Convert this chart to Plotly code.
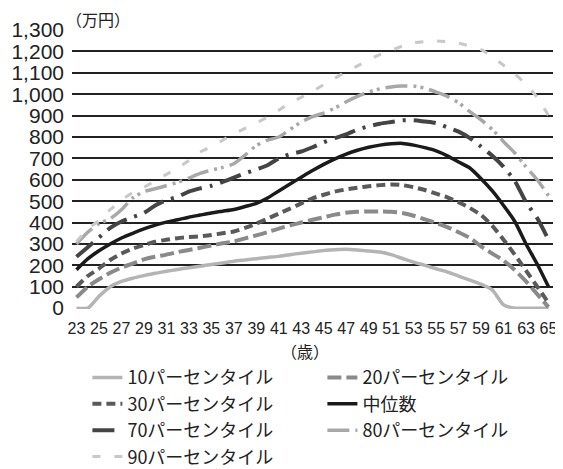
import plotly.graph_objects as go

ages = list(range(23, 66))
tick_vals = list(range(23, 66, 2))
tick_text = [str(v) for v in tick_vals]
y_ticks = list(range(0, 1301, 100))
y_tick_text = [f"{v:,}" for v in y_ticks]

p10 = [0, 0, 55, 100, 125, 140, 152, 163, 172, 181, 189, 196, 204, 211, 219, 225, 231, 237, 242, 250,
       257, 263, 269, 273, 275, 272, 267, 262, 250, 232, 215, 200, 184, 169, 150, 131, 112, 85, 15, 0, 0, 0, 0]
p20 = [50, 100, 135, 165, 190, 208, 228, 240, 250, 262, 272, 282, 293, 303, 312, 326, 340, 355, 372, 387,
       400, 413, 425, 437, 446, 450, 452, 452, 450, 445, 432, 415, 398, 379, 355, 328, 289, 255, 222, 178, 125, 65, 5]
p30 = [100, 150, 185, 225, 255, 278, 295, 310, 320, 327, 332, 336, 342, 350, 358, 375, 395, 418, 442, 465,
       490, 513, 530, 545, 555, 563, 570, 575, 578, 575, 565, 552, 535, 518, 495, 468, 435, 385, 320, 250, 175, 100, 25]
p50 = [180, 230, 268, 300, 328, 350, 370, 388, 402, 413, 425, 435, 445, 453, 461, 475, 490, 515, 548, 580,
       612, 643, 672, 698, 720, 738, 752, 762, 768, 770, 762, 750, 735, 712, 683, 655, 605, 548, 480, 405, 300, 205, 100]
p70 = [240, 285, 330, 375, 405, 425, 445, 480, 505, 520, 545, 560, 572, 590, 610, 630, 648, 668, 700, 720,
       732, 752, 775, 795, 812, 835, 850, 862, 870, 878, 878, 872, 865, 845, 825, 795, 755, 712, 660, 595, 495, 420, 320]
p80 = [300, 355, 395, 418, 460, 515, 545, 558, 572, 588, 608, 630, 645, 658, 675, 715, 760, 785, 800, 835,
       870, 895, 912, 935, 965, 990, 1010, 1025, 1034, 1038, 1038, 1028, 1010, 990, 960, 918, 880, 835, 778, 725, 660, 600, 525]
p90 = [310, 370, 410, 460, 505, 540, 565, 595, 625, 655, 690, 730, 755, 785, 815, 840, 865, 893, 925, 960,
       985, 1013, 1045, 1075, 1105, 1132, 1160, 1185, 1205, 1225, 1240, 1246, 1249, 1245, 1238, 1225, 1208, 1175, 1135, 1095, 1045, 985, 900]

series = [
    ("10パーセンタイル", p10, "#b4b4b4", "solid", 3.5),
    ("20パーセンタイル", p20, "#8a8a8a", "14px,5px", 4),
    ("30パーセンタイル", p30, "#5a5a5a", "9px,5px", 4),
    ("中位数", p50, "#1a1a1a", "solid", 3.5),
    ("70パーセンタイル", p70, "#444444", "22px,8px,3px,8px", 4),
    ("80パーセンタイル", p80, "#a8a8a8", "22px,6px,3px,4px,3px,6px", 3.5),
    ("90パーセンタイル", p90, "#c8c8c8", "8px,14px", 3),
]

fig = go.Figure()
for name, vals, color, dash, w in series:
    fig.add_trace(go.Scatter(x=ages, y=vals, mode="lines", name=name,
                             line=dict(color=color, dash=dash, width=w, shape="spline", smoothing=0.6)))

font_main = "Liberation Sans, DejaVu Sans, Noto Sans CJK JP"
# page body has an 8px margin, so the figure is 8px smaller and offset accordingly
fig.update_layout(
    width=555, height=461,
    margin=dict(l=64, r=10, t=22, b=160, autoexpand=False),
    paper_bgcolor="white", plot_bgcolor="white",
    showlegend=True,
    font=dict(family=font_main, color="#222"),
    legend=dict(orientation="h", x=0.032, xanchor="left", y=-0.18, yanchor="top",
                entrywidth=190, entrywidthmode="pixels",
                font=dict(size=18, family="Noto Sans CJK JP, Liberation Sans", color="#222"),
                tracegroupgap=0, bgcolor="rgba(0,0,0,0)"),
    xaxis=dict(range=[22.6, 65.4], tickmode="array", tickvals=tick_vals, ticktext=tick_text,
               showgrid=False, zeroline=False, showline=False, ticks="", automargin=False,
               ticklabelstandoff=8,
               tickfont=dict(size=16, family="Liberation Sans", color="#222")),
    yaxis=dict(range=[-4, 1300], tickmode="array", tickvals=y_ticks, ticktext=y_tick_text,
               showgrid=True, gridcolor="#222", gridwidth=1.5, zeroline=False, showline=False,
               automargin=False, ticklabelstandoff=7,
               tickfont=dict(size=21, family=font_main, color="#222"), ticks=""),
    annotations=[
        dict(text="（万円）", xref="paper", yref="paper", x=-0.017, y=1.0, xanchor="left", yanchor="bottom",
             yshift=-3, showarrow=False, font=dict(size=16, family="Noto Sans CJK JP", color="#222")),
        dict(text="（歳）", xref="paper", yref="paper", x=0.484, y=-0.10, xanchor="center", yanchor="top",
             showarrow=False, font=dict(size=16, family="Noto Sans CJK JP", color="#222")),
    ],
)

fig.write_html("out.html")
